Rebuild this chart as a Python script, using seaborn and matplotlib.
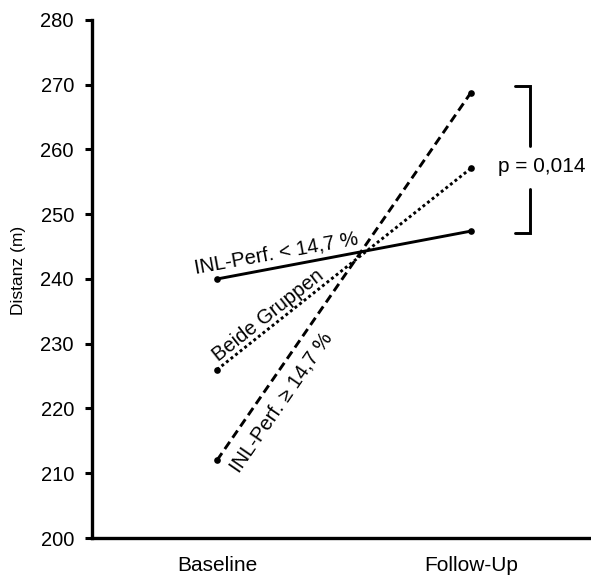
import matplotlib
matplotlib.use("Agg")
import matplotlib.pyplot as plt
import seaborn as sns
import pandas as pd

timepoints = ["Baseline", "Follow-Up"]
low_perf = [240.0, 247.4]      # INL-Perf. < 14,7 %
both_groups = [226.0, 257.1]   # Beide Gruppen
high_perf = [212.0, 268.8]     # INL-Perf. ≥ 14,7 %
yticks = [200, 210, 220, 230, 240, 250, 260, 270, 280]

sns.set_theme(style="white")
plt.rcParams['font.family'] = ['Liberation Sans', 'DejaVu Sans']
plt.rcParams['text.color'] = 'black'
plt.rcParams['axes.labelcolor'] = 'black'
plt.rcParams['xtick.color'] = 'black'
plt.rcParams['ytick.color'] = 'black'

fig = plt.figure(figsize=(5.91, 5.79), dpi=100)
ax = fig.add_axes([92/591, 41/579, 1 - 92/591, 518/579])

series = [
    (low_perf, None),
    (both_groups, (1.0, 1.0)),
    (high_perf, (3.0, 1.7)),
]
for vals, dash in series:
    df = pd.DataFrame({"t": timepoints, "v": vals})
    sns.lineplot(data=df, x="t", y="v", ax=ax, color="black",
                 linewidth=2.1, marker="o", markersize=4.8,
                 markeredgewidth=0, sort=False)
    l = ax.lines[-1]
    if dash is None:
        l.set_linestyle("-")
    else:
        l.set_dashes(dash)

unit = 254.0
ax.set_xlim((92 - 217) / unit, (591 - 217) / unit)
ax.set_ylim(200, 280)
ax.set_yticks(yticks)
ax.set_yticklabels([str(t) for t in yticks], fontsize=14.5)
ax.set_xticks([0, 1])
ax.set_xticklabels(timepoints, fontsize=15)
ax.set_xlabel("")
ax.set_ylabel("Distanz (m)", fontsize=12.5)
ax.yaxis.set_label_coords((26 - 92) / 499, (538 - 270) / 518)

for s in ["top", "right"]:
    ax.spines[s].set_visible(False)
for s in ["left", "bottom"]:
    ax.spines[s].set_linewidth(2.4)
    ax.spines[s].set_color("black")
ax.tick_params(axis="y", which="major", direction="out", length=5, width=2.2,
               colors="black", left=True, pad=8)
ax.tick_params(axis="x", length=0, pad=13, colors="black")

# line labels
fs = 14.5
ax.text(0.232, 243.9, "INL-Perf. < 14,7 %", rotation=10.3, ha="center", va="center",
        rotation_mode="anchor", fontsize=fs)
ax.text(0.20, 234.4, "Beide Gruppen", rotation=38.4, ha="center", va="center",
        rotation_mode="anchor", fontsize=fs)
ax.text(0.252, 221.0, "INL-Perf. ≥ 14,7 %", rotation=55.4, ha="center", va="center",
        rotation_mode="anchor", fontsize=fs)

# significance bracket
xb = (530 - 217) / unit
xa = (515 - 217) / unit
ytop, ybot = 269.8, 247.1
ygap_top, ygap_bot = 260.5, 253.9
ax.plot([xa, xb, xb], [ytop, ytop, ygap_top], color="black", linewidth=2.1,
        solid_joinstyle="miter", clip_on=False)
ax.plot([xa, xb, xb], [ybot, ybot, ygap_bot], color="black", linewidth=2.1,
        solid_joinstyle="miter", clip_on=False)
ax.text((542 - 217) / unit, 257.3, "p = 0,014", ha="center", va="center", fontsize=15)

fig.savefig("out.png", dpi=100)
